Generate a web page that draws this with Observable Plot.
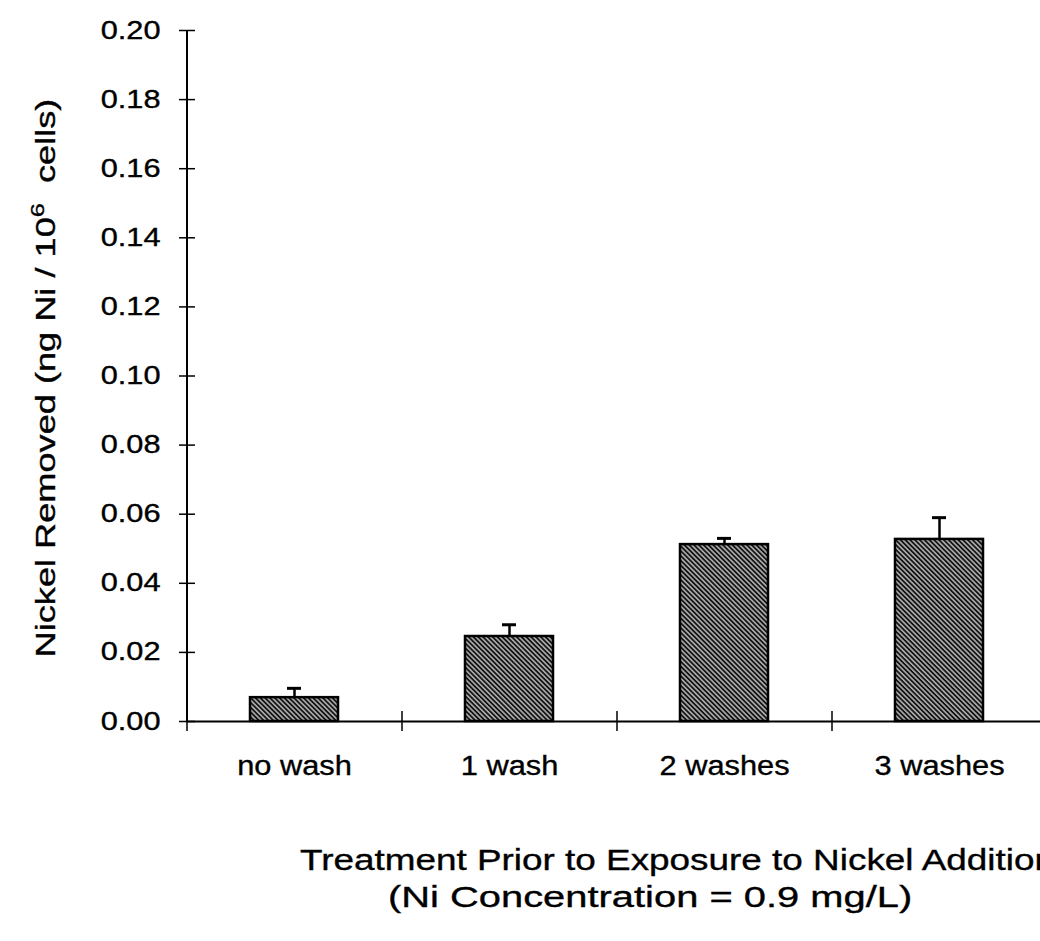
<!DOCTYPE html>
<html>
<head>
<meta charset="utf-8">
<script src="https://cdn.jsdelivr.net/npm/d3@7"></script>
<script src="https://cdn.jsdelivr.net/npm/@observablehq/plot@0.6"></script>
<style>
  html, body { margin: 0; padding: 0; background: #fff; }
  svg text { font-family: "Liberation Sans", Arial, sans-serif; }
</style>
</head>
<body>
<div id="chart"></div>
<script>
// Nickel removed per million cells after different pre-wash treatments
const categories = ["no wash", "1 wash", "2 washes", "3 washes"];
const means = [0.0069, 0.0246, 0.0512, 0.0527];
const upperErr = [0.0096, 0.0280, 0.0530, 0.0590];
const yTicks = [0, 0.02, 0.04, 0.06, 0.08, 0.10, 0.12, 0.14, 0.16, 0.18, 0.20];

const yTitle = ["Nickel Removed (ng Ni / 10", "6", "\u00a0 cells)"];
const xTitle = ["Treatment Prior to Exposure to Nickel Addition", "(Ni Concentration = 0.9 mg/L)"];

const data = categories.map((c, i) => ({cat: c, mean: means[i], upper: upperErr[i]}));

const xRange = [187, 1047];
const halfStep = (xRange[1] - xRange[0]) / categories.length / 2;

// diagonal hatch fill for the bars
const hatchDefs = () => {
  const defs = d3.create("svg:defs");
  const p = defs.append("pattern")
    .attr("id", "hatch")
    .attr("patternUnits", "userSpaceOnUse")
    .attr("width", 3.4).attr("height", 3.4)
    .attr("patternTransform", "rotate(-45)");
  p.append("rect").attr("width", 3.4).attr("height", 3.4).attr("fill", "#141414");
  p.append("line").attr("x1", 1.7).attr("y1", 0).attr("x2", 1.7).attr("y2", 3.4)
    .attr("stroke", "#fff").attr("stroke-width", 1.05);
  return defs.node();
};

// vertical axis line along the left edge of the frame
const yAxisLine = (index, scales, values, dims) => {
  const g = d3.create("svg:g");
  g.append("line")
    .attr("x1", dims.marginLeft).attr("x2", dims.marginLeft)
    .attr("y1", scales.y(0)).attr("y2", scales.y(0.2))
    .attr("stroke", "#000").attr("stroke-width", 2);
  return g.node();
};

// axis titles (the y title carries a superscript exponent); the lettering is wide
const titles = () => {
  const g = d3.create("svg:g").attr("fill", "#000")
    .attr("stroke", "#000").attr("stroke-width", 0.35);
  const t = g.append("text")
    .attr("transform", "translate(55,378) rotate(-90) scale(1.34,1)")
    .attr("text-anchor", "middle")
    .attr("font-size", 27);
  t.append("tspan").text(yTitle[0]);
  t.append("tspan").attr("dy", -11).attr("font-size", 19).text(yTitle[1]);
  t.append("tspan").attr("dy", 11).text(yTitle[2]);

  g.append("text")
    .attr("transform", "translate(300,870) scale(1.23,1)")
    .attr("text-anchor", "start")
    .attr("font-size", 30)
    .text(xTitle[0]);
  g.append("text")
    .attr("transform", "translate(388,907) scale(1.33,1)")
    .attr("text-anchor", "start")
    .attr("font-size", 30)
    .text(xTitle[1]);
  return g.node();
};

const chart = Plot.plot({
  width: 1040,
  height: 941,
  marginLeft: 187,
  marginTop: 30,
  marginBottom: 220,
  marginRight: 0,
  style: {background: "#fff", color: "#000", overflow: "visible"},
  x: {domain: categories, range: xRange, paddingInner: 0.59, paddingOuter: 0.295},
  y: {domain: [0, 0.2]},
  marks: [
    hatchDefs,
    Plot.ruleX(data, {x: "cat", y1: "mean", y2: "upper", stroke: "#000", strokeWidth: 2.5}),
    Plot.tickY(data, {x: "cat", y: "upper", stroke: "#000", strokeWidth: 3, insetLeft: 37, insetRight: 37}),
    Plot.barY(data, {x: "cat", y: "mean", fill: "url(#hatch)", stroke: "#000", strokeWidth: 2.5}),
    Plot.ruleY([0], {stroke: "#000", strokeWidth: 2}),
    yAxisLine,
    Plot.axisY({
      ticks: yTicks, tickFormat: d3.format(".2f"), tickSize: 16, dx: 8, tickPadding: 19,
      strokeWidth: 1.5, fontSize: 25, label: null
    }),
    Plot.axisX({tickSize: 20, dy: -10, dx: -halfStep, text: null, strokeWidth: 1.5, label: null}),
    Plot.axisX({tickSize: 0, tickPadding: 34, fontSize: 28, label: null}),
    titles
  ]
});

// widen the tick lettering about each label's anchor point
function widen(selector, s) {
  d3.select(chart).selectAll(selector).each(function () {
    const el = d3.select(this);
    const tr = el.attr("transform");
    if (tr) {
      el.attr("transform", `${tr} scale(${s},1)`);
    } else {
      const x = +el.attr("x") || 0, y = +el.attr("y") || 0;
      el.attr("x", null).attr("y", null)
        .attr("transform", `translate(${x},${y}) scale(${s},1)`);
    }
    el.attr("stroke", "#000").attr("stroke-width", 0.35);
  });
}
widen("[aria-label='y-axis tick label'] text", 1.23);
widen("[aria-label='x-axis tick label'] text", 1.1);

document.getElementById("chart").appendChild(chart);
</script>
</body>
</html>
